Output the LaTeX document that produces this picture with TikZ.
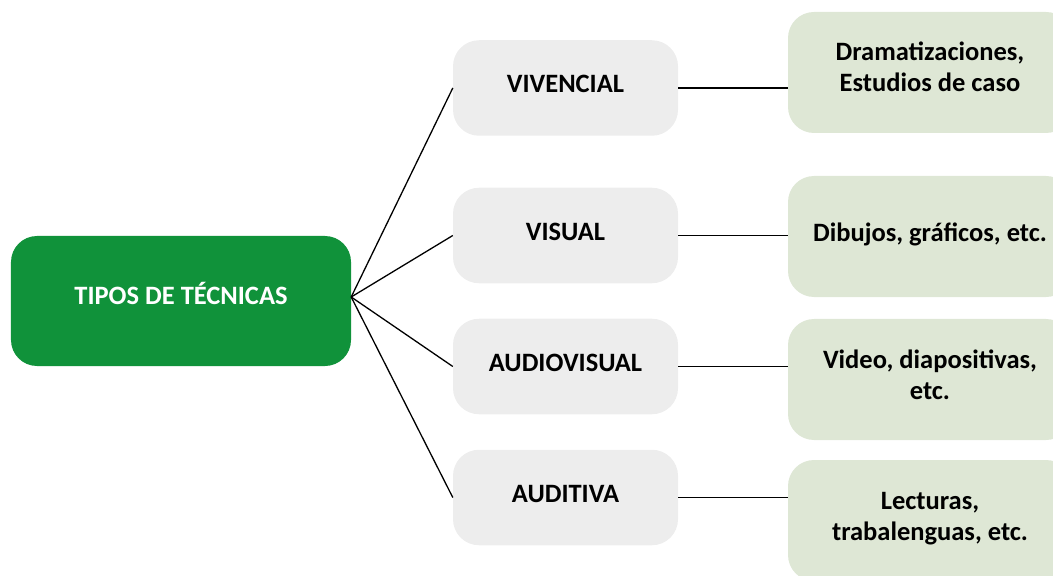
\documentclass[tikz,border=0pt]{standalone}
\usepackage{fontspec}
\setmainfont{Carlito}
\definecolor{rootgreen}{HTML}{10923A}
\definecolor{midgray}{HTML}{EDEDED}
\definecolor{leafgreen}{HTML}{DEE7D5}
\begin{document}
\begin{tikzpicture}[x=1bp,y=-1bp,
  every node/.style={font=\fontsize{26.5bp}{31bp}\selectfont\bfseries, inner sep=0pt},
  rootbox/.style={fill=rootgreen, text=white, rounded corners=26bp,
    minimum width=340bp, minimum height=130bp, text height=17bp, text depth=9bp},
  midbox/.style={fill=midgray, text=black, rounded corners=26bp,
    minimum width=225bp, minimum height=95.5bp, text height=17bp, text depth=7bp},
  leafbox/.style={fill=leafgreen, text=black, rounded corners=26bp,
    minimum width=284bp, minimum height=121bp},
  leafone/.style={leafbox, text height=17bp, text depth=7bp},
  leaftwo/.style={leafbox, text height=17bp, text depth=40bp},
  link/.style={draw=black, line width=1.3bp}
]
\useasboundingbox (0,0) rectangle (1053,576);
\clip (0,0) rectangle (1053,576);

\node[rootbox] (root) at (181,301) {TIPOS DE TÉCNICAS};
\coordinate (hub) at ([yshift=4bp]root.east);

\node[midbox] (viv) at (565.5,88) {VIVENCIAL};
\node[midbox] (vis) at (565.5,235.5) {VISUAL};
\node[midbox] (av)  at (565.5,366.5) {AUDIOVISUAL};
\node[midbox] (aud) at (565.5,497.5) {AUDITIVA};

\node[leaftwo] (r1) at (930,72.5) {\begin{tabular}[t]{@{}c@{}}Dramatizaciones,\\Estudios de caso\end{tabular}};
\node[leafone] (r2) at (930,236.5) {Dibujos, gráficos, etc.};
\node[leaftwo] (r3) at (930,379.5) {\begin{tabular}[t]{@{}c@{}}Video, diapositivas,\\etc.\end{tabular}};
\node[leaftwo] (r4) at (930,520.5) {\begin{tabular}[t]{@{}c@{}}Lecturas,\\trabalenguas, etc.\end{tabular}};

\draw[link] (hub) -- (viv.west);
\draw[link] (hub) -- (vis.west);
\draw[link] (hub) -- (av.west);
\draw[link] (hub) -- (aud.west);

\draw[link] (viv.east) -- (viv.east -| r1.west);
\draw[link] (vis.east) -- (vis.east -| r2.west);
\draw[link] (av.east) -- (av.east -| r3.west);
\draw[link] (aud.east) -- (aud.east -| r4.west);
\end{tikzpicture}
\end{document}
